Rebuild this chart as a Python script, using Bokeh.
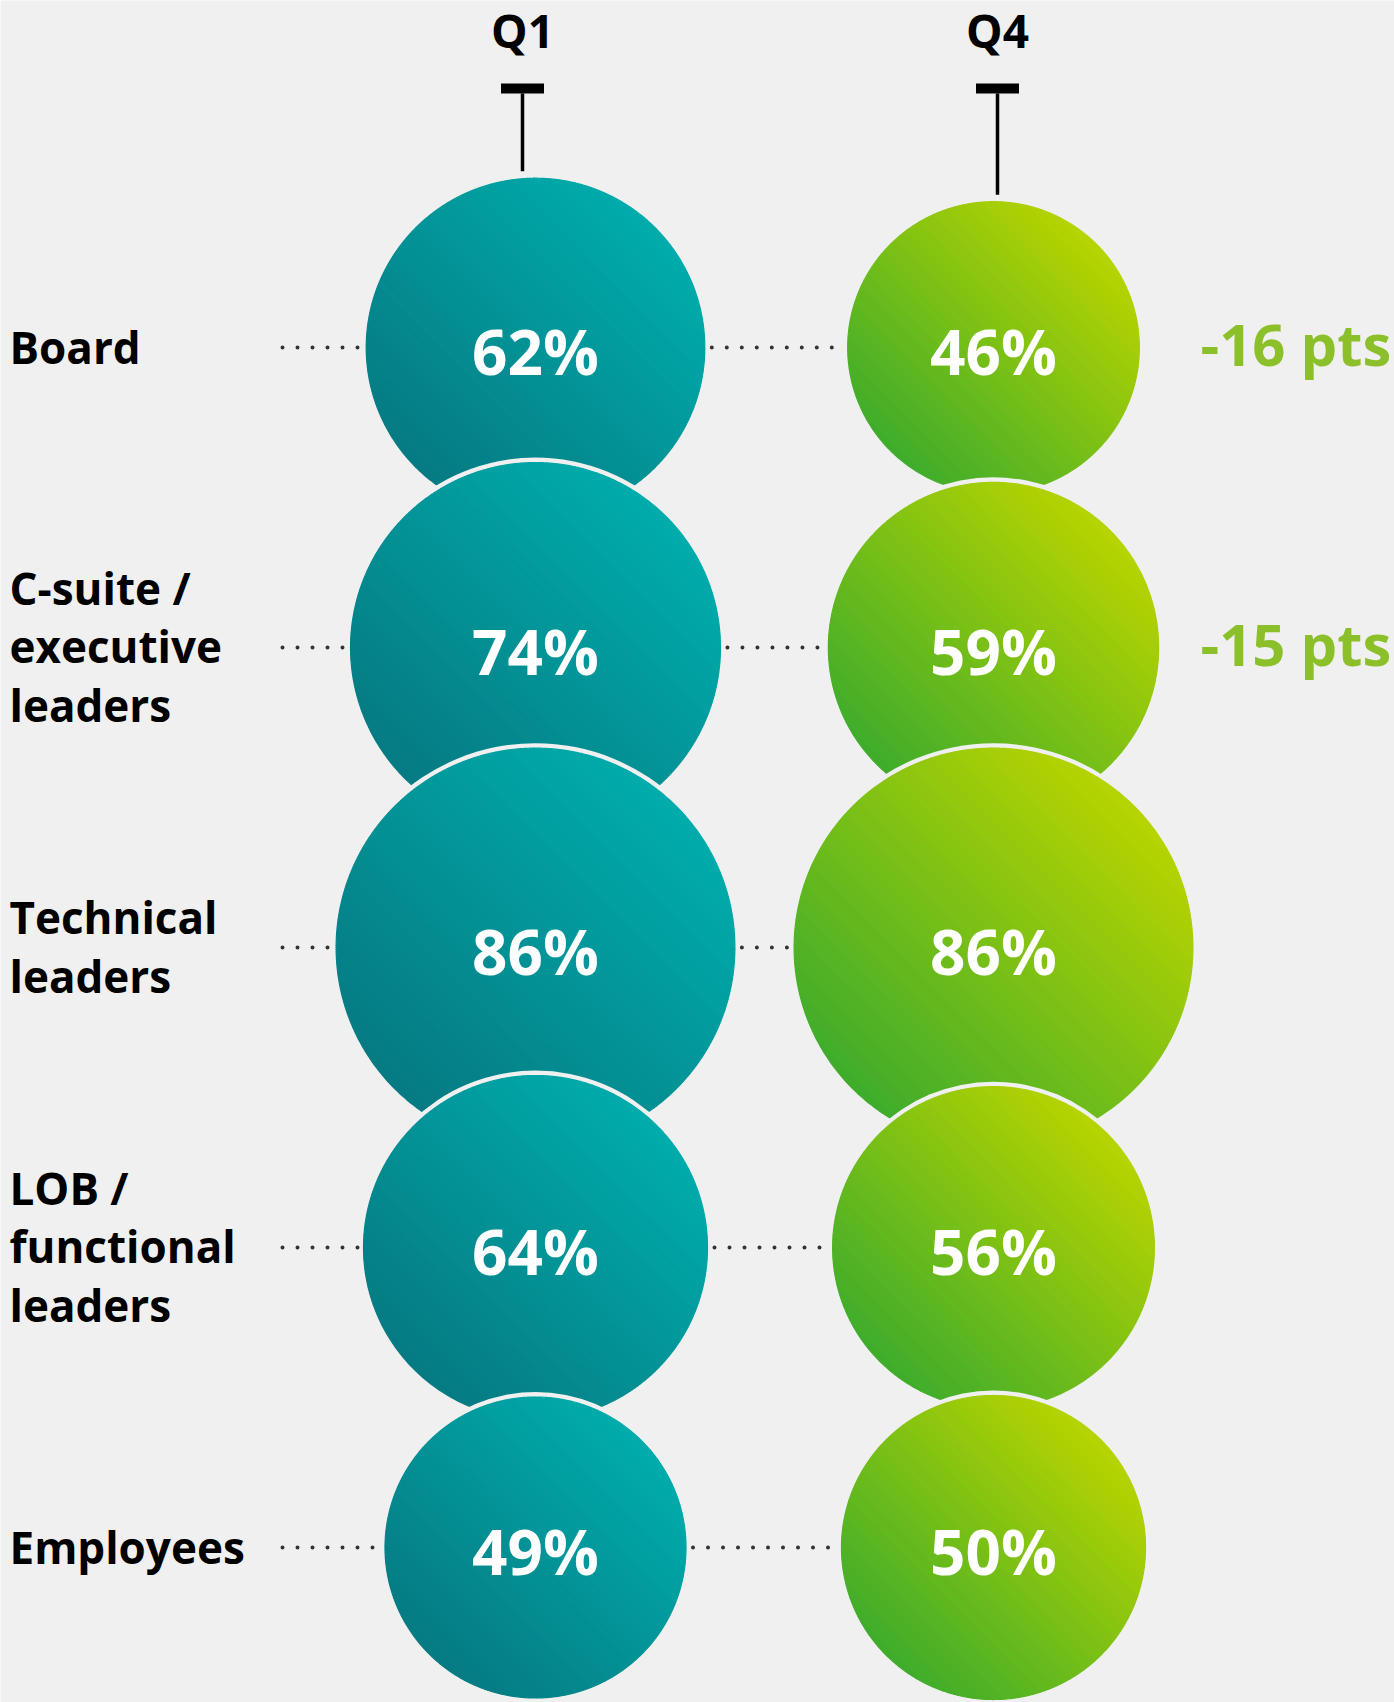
import numpy as np
from bokeh.plotting import figure
from bokeh.models import Range1d
from bokeh.core.properties import value
from bokeh.embed import file_html
from bokeh.resources import INLINE

# ---------------- data ----------------
categories = ["Board", "C-suite /\nexecutive\nleaders", "Technical\nleaders",
              "LOB /\nfunctional\nleaders", "Employees"]
columns = ["Q1", "Q4"]
q1_values = [62, 74, 86, 64, 49]
q4_values = [46, 59, 86, 56, 50]
change_labels = ["-16 pts", "-15 pts", "", "", ""]

# ---------------- layout / style ----------------
BG = "#f0f0f0"
FONT = value("Open Sans")
ROW_Y0, ROW_STEP = 347, 300
COL_X = [535, 993]
HEAD_X = [522, 997]
K = 21.5          # radius scale: r = K * sqrt(value)
GAP = 5
Q1_COLORS = ((6, 122, 130), (0, 172, 172))
Q4_COLORS = ((62, 172, 44), (184, 212, 0))

p = figure(width=1394, height=1702, output_backend="svg", toolbar_location=None,
           x_range=Range1d(0, 1394), y_range=Range1d(1702, 0), min_border=0)
p.axis.visible = False
p.xgrid.visible = False
p.ygrid.visible = False
p.outline_line_color = None
p.background_fill_color = BG
p.border_fill_color = BG

rows_y = [ROW_Y0 + ROW_STEP * i for i in range(len(categories))]


def hexcol(c):
    return "#%02x%02x%02x" % tuple(int(round(v)) for v in c)


def gradient_circle(cx, cy, r, dark, light, n=40, m=24):
    a = np.pi / 4  # gradient toward top-right
    xs, ys, cols = [], [], []
    edges = np.linspace(-r, r, n + 1)
    for i in range(n):
        s0, s1 = edges[i], edges[i + 1]
        al0 = np.arccos(np.clip(s0 / r, -1, 1))
        al1 = np.arccos(np.clip(s1 / r, -1, 1))
        th = np.concatenate([np.linspace(a + al1, a + al0, m),
                             np.linspace(a - al0, a - al1, m)])
        xs.append(list(cx + r * np.cos(th)))
        ys.append(list(cy - r * np.sin(th)))
        t = (i + 0.5) / n
        c = [dark[j] + (light[j] - dark[j]) * t for j in range(3)]
        cols.append(hexcol(c))
    p.circle([cx], [cy], radius=r + GAP, fill_color=BG, line_color=None)
    p.patches(xs, ys, fill_color=cols, line_color=cols, line_width=1.2)


series = [q1_values, q4_values]
grads = [Q1_COLORS, Q4_COLORS]
radii = [[K * np.sqrt(v) for v in s] for s in series]

# circles (top to bottom, lower ones overlap the upper ones)
for ci in range(2):
    for ri, v in enumerate(series[ci]):
        gradient_circle(COL_X[ci], rows_y[ri], radii[ci][ri], *grads[ci])

# percentage labels
for ci in range(2):
    p.text([COL_X[ci]] * len(rows_y), [y + 3 for y in rows_y],
           text=["%d%%" % v for v in series[ci]],
           text_font=FONT, text_font_style="bold", text_font_size="62px",
           text_color="white", text_align="center", text_baseline="middle")

# dotted leaders
left_x0 = [282] * len(rows_y)
left_x1 = [COL_X[0] - r - 5 for r in radii[0]]
mid_x0 = [COL_X[0] + r + 7 for r in radii[0]]
mid_x1 = [COL_X[1] - r - 7 for r in radii[1]]
for x0, x1 in [(left_x0, left_x1), (mid_x0, mid_x1)]:
    p.segment(x0=x0, y0=rows_y, x1=x1, y1=rows_y, line_color="#333333",
              line_width=4, line_dash="0 15", line_cap="round")

# row labels
p.text([9] * len(rows_y), [y - 1 for y in rows_y], text=categories, text_font=FONT,
       text_font_style="bold", text_font_size="44px", text_color="#000000",
       text_align="left", text_baseline="middle", text_line_height=0.97)

# change labels
p.text([1200] * len(rows_y), [y - 4 for y in rows_y], text=change_labels, text_font=FONT,
       text_font_style="bold", text_font_size="58px", text_color="#8cc02a",
       text_align="left", text_baseline="middle")

# column headers with T markers
p.text(HEAD_X, [29, 29], text=columns, text_font=FONT, text_font_style="bold",
       text_font_size="46px", text_color="#000000", text_align="center",
       text_baseline="middle")
p.segment(x0=[h - 21.5 for h in HEAD_X], y0=[88, 88],
          x1=[h + 21.5 for h in HEAD_X], y1=[88, 88],
          line_color="#000000", line_width=10)
tops = [rows_y[0] - radii[ci][0] - 7 for ci in range(2)]
p.segment(x0=HEAD_X, y0=[93, 93], x1=HEAD_X, y1=tops,
          line_color="#000000", line_width=3.5)

html = file_html(p, INLINE)
html = html.replace("<body>", '<body style="background-color:%s;">' % BG, 1)
open("out.html", "w").write(html)
